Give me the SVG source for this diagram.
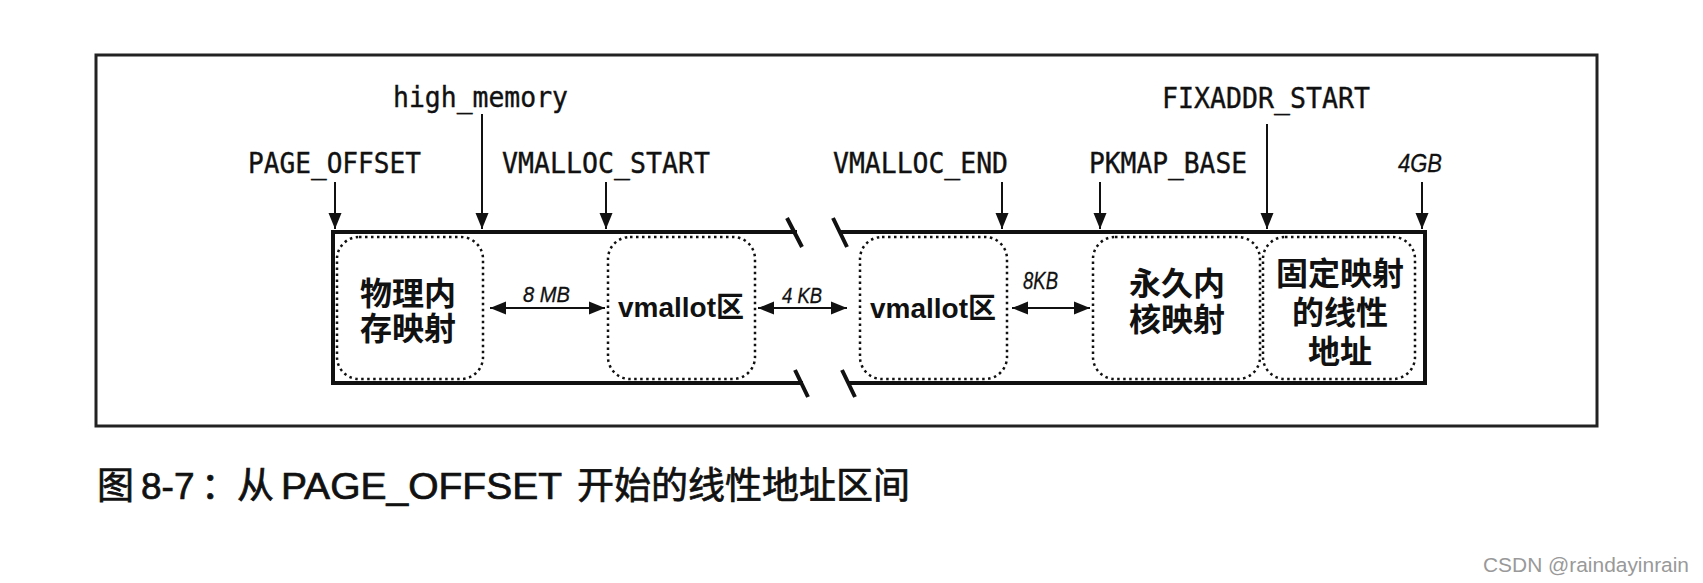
<svg xmlns="http://www.w3.org/2000/svg" width="1703" height="583" viewBox="0 0 1703 583">
<defs>
<marker id="ah" markerUnits="userSpaceOnUse" markerWidth="16" markerHeight="14" refX="16" refY="7" orient="auto-start-reverse" viewBox="0 0 16 14">
<path d="M0,0.5 L16,7 L0,13.5 z" fill="#111"/>
</marker>
<style>
.lbl{font-family:"DejaVu Sans Mono","Liberation Mono",monospace;font-size:29px;fill:#111;stroke:#111;stroke-width:0.4}
.it{font-family:"Liberation Sans",Arial,sans-serif;font-style:italic;fill:#111;stroke:#111;stroke-width:0.3}
.cjk{font-family:"Noto Sans CJK SC","Liberation Sans",sans-serif;font-weight:bold;font-size:32px;fill:#111;text-anchor:middle}
.vm{font-family:"Liberation Sans","Noto Sans CJK SC",sans-serif;font-weight:bold;font-size:28px;fill:#111;text-anchor:middle}
.box{fill:none;stroke:#111;stroke-width:2.5;stroke-dasharray:2.5 3.5}
.bar{fill:none;stroke:#111;stroke-width:4}
.arr{stroke:#111;stroke-width:2;fill:none;marker-end:url(#ah)}
.darr{stroke:#111;stroke-width:2;fill:none;marker-start:url(#ah);marker-end:url(#ah)}
.cap{font-family:"Liberation Sans","Noto Sans CJK SC",sans-serif;font-size:37px;fill:#111;stroke:#111;stroke-width:0.7}
</style>
</defs>
<rect width="1703" height="583" fill="#fff"/>
<rect x="96" y="55" width="1501" height="371" fill="none" stroke="#222" stroke-width="3"/>

<g id="bar">
<path class="bar" d="M797,232 H333 V383 H803"/>
<path class="bar" d="M840,232 H1425 V383 H847"/>
<path class="bar" d="M787,218 L802,247 M833,218 L847,247 M795,370 L808,397 M842,370 L855,397" stroke-width="3"/>
</g>

<g id="node-phys">
<rect class="box" x="337" y="237" width="146" height="142" rx="22"/>
<text class="cjk" x="408" y="305">物理内</text>
<text class="cjk" x="408" y="340">存映射</text>
</g>
<g id="node-vmalloc1">
<rect class="box" x="608" y="237" width="147" height="142" rx="22"/>
<text class="vm" x="681" y="317">vmallot区</text>
</g>
<g id="node-vmalloc2">
<rect class="box" x="860" y="237" width="147" height="142" rx="22"/>
<text class="vm" x="933" y="318">vmallot区</text>
</g>
<g id="node-pkmap">
<rect class="box" x="1093" y="237" width="167" height="142" rx="22"/>
<text class="cjk" x="1177" y="295">永久内</text>
<text class="cjk" x="1177" y="331">核映射</text>
</g>
<g id="node-fixmap">
<rect class="box" x="1263" y="237" width="152" height="142" rx="22"/>
<text class="cjk" x="1340" y="285">固定映射</text>
<text class="cjk" x="1340" y="324">的线性</text>
<text class="cjk" x="1340" y="363">地址</text>
</g>

<g id="labels">
<text class="lbl" x="393" y="107" textLength="175" lengthAdjust="spacingAndGlyphs">high_memory</text>
<text class="lbl" x="248" y="173" textLength="173" lengthAdjust="spacingAndGlyphs">PAGE_OFFSET</text>
<text class="lbl" x="502" y="173" textLength="208" lengthAdjust="spacingAndGlyphs">VMALLOC_START</text>
<text class="lbl" x="833" y="173" textLength="175" lengthAdjust="spacingAndGlyphs">VMALLOC_END</text>
<text class="lbl" x="1089" y="173" textLength="158" lengthAdjust="spacingAndGlyphs">PKMAP_BASE</text>
<text class="lbl" x="1162" y="108" textLength="208" lengthAdjust="spacingAndGlyphs">FIXADDR_START</text>
<text class="it" x="1398" y="172" font-size="26" textLength="44" lengthAdjust="spacingAndGlyphs">4GB</text>
<text class="it" x="523" y="302" font-size="22" textLength="47" lengthAdjust="spacingAndGlyphs">8 MB</text>
<text class="it" x="782" y="303" font-size="22" textLength="40" lengthAdjust="spacingAndGlyphs">4 KB</text>
<text class="it" x="1023" y="289" font-size="23" textLength="35" lengthAdjust="spacingAndGlyphs">8KB</text>
</g>

<g id="connectors">
<line class="arr" x1="335" y1="182" x2="335" y2="229"/>
<line class="arr" x1="482" y1="114" x2="482" y2="229"/>
<line class="arr" x1="606" y1="182" x2="606" y2="229"/>
<line class="arr" x1="1002" y1="182" x2="1002" y2="229"/>
<line class="arr" x1="1100" y1="182" x2="1100" y2="229"/>
<line class="arr" x1="1267" y1="124" x2="1267" y2="229"/>
<line class="arr" x1="1422" y1="182" x2="1422" y2="229"/>
<line class="darr" x1="490" y1="308" x2="605" y2="308"/>
<line class="darr" x1="758" y1="308" x2="847" y2="308"/>
<line class="darr" x1="1012" y1="308" x2="1090" y2="308"/>
</g>

<g id="caption">
<text class="cap" y="499"><tspan x="97">图</tspan><tspan x="141">8-7</tspan><tspan x="201">：</tspan><tspan x="237">从</tspan><tspan x="281" textLength="281" lengthAdjust="spacingAndGlyphs">PAGE_OFFSET</tspan><tspan x="577">开始的线性地址区间</tspan></text>
</g>
<text x="1483" y="572" font-family="Liberation Sans, Arial, sans-serif" font-size="20.5" fill="#999" textLength="206" lengthAdjust="spacingAndGlyphs">CSDN @raindayinrain</text>
</svg>
